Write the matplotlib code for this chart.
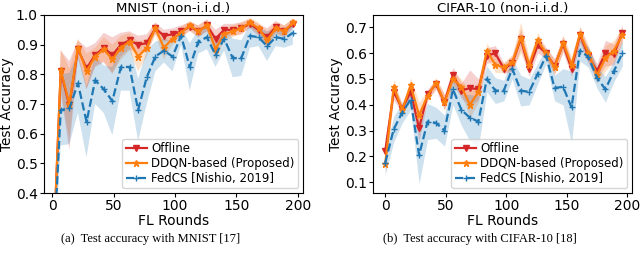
import matplotlib
matplotlib.use("Agg")
import matplotlib.pyplot as plt
import numpy as np

rounds = list(range(0, 197, 7))

mnist_offline = [0.10, 0.81, 0.695, 0.885, 0.82, 0.865, 0.89, 0.865, 0.90, 0.915, 0.90, 0.905, 0.955, 0.93, 0.935,
                 0.945, 0.96, 0.945, 0.965, 0.92, 0.95, 0.95, 0.955, 0.97, 0.95, 0.925, 0.96, 0.945, 0.97]
mnist_ddqn = [0.10, 0.815, 0.70, 0.89, 0.81, 0.86, 0.885, 0.85, 0.89, 0.91, 0.86, 0.89, 0.955, 0.89, 0.92,
              0.94, 0.965, 0.945, 0.965, 0.885, 0.935, 0.945, 0.955, 0.975, 0.955, 0.915, 0.955, 0.945, 0.975]
mnist_fedcs = [0.10, 0.68, 0.685, 0.77, 0.64, 0.78, 0.75, 0.71, 0.825, 0.825, 0.68, 0.79, 0.86, 0.88, 0.86,
               0.93, 0.825, 0.91, 0.925, 0.865, 0.92, 0.855, 0.855, 0.93, 0.925, 0.895, 0.925, 0.92, 0.94]
mnist_offline_sd = [0.05, 0.07, 0.15, 0.03, 0.07, 0.04, 0.05, 0.06, 0.04, 0.03, 0.03, 0.03, 0.02, 0.02, 0.02,
                    0.02, 0.015, 0.02, 0.02, 0.03, 0.02, 0.02, 0.02, 0.015, 0.02, 0.03, 0.02, 0.02, 0.015]
mnist_ddqn_sd = [0.05, 0.07, 0.12, 0.03, 0.06, 0.03, 0.04, 0.05, 0.04, 0.03, 0.05, 0.03, 0.02, 0.04, 0.02,
                 0.02, 0.015, 0.02, 0.02, 0.04, 0.02, 0.02, 0.02, 0.015, 0.02, 0.03, 0.02, 0.02, 0.015]
mnist_fedcs_sd = [0.05, 0.12, 0.12, 0.10, 0.12, 0.08, 0.08, 0.115, 0.08, 0.08, 0.105, 0.09, 0.05, 0.04, 0.05,
                  0.03, 0.08, 0.04, 0.04, 0.04, 0.04, 0.065, 0.06, 0.04, 0.03, 0.05, 0.03, 0.03, 0.04]

cifar_offline = [0.22, 0.45, 0.385, 0.45, 0.31, 0.44, 0.48, 0.41, 0.515, 0.455, 0.465, 0.46, 0.59, 0.60, 0.54,
                 0.56, 0.655, 0.54, 0.63, 0.60, 0.55, 0.635, 0.54, 0.67, 0.59, 0.53, 0.60, 0.595, 0.68]
cifar_ddqn = [0.17, 0.47, 0.38, 0.475, 0.36, 0.435, 0.485, 0.41, 0.50, 0.47, 0.40, 0.45, 0.61, 0.555, 0.545,
              0.565, 0.66, 0.555, 0.65, 0.60, 0.545, 0.64, 0.555, 0.675, 0.60, 0.515, 0.58, 0.61, 0.67]
cifar_fedcs = [0.175, 0.305, 0.37, 0.42, 0.205, 0.335, 0.33, 0.30, 0.46, 0.38, 0.35, 0.335, 0.50, 0.455, 0.455,
               0.54, 0.455, 0.45, 0.52, 0.59, 0.465, 0.47, 0.39, 0.61, 0.585, 0.505, 0.46, 0.53, 0.60]
cifar_offline_sd = [0.05, 0.03, 0.02, 0.03, 0.05, 0.02, 0.02, 0.03, 0.03, 0.03, 0.07, 0.04, 0.03, 0.03, 0.02,
                    0.03, 0.04, 0.03, 0.03, 0.02, 0.03, 0.03, 0.03, 0.03, 0.03, 0.03, 0.05, 0.04, 0.03]
cifar_ddqn_sd = [0.04, 0.03, 0.02, 0.03, 0.05, 0.02, 0.02, 0.03, 0.03, 0.03, 0.05, 0.04, 0.03, 0.03, 0.02,
                 0.03, 0.06, 0.03, 0.03, 0.02, 0.03, 0.03, 0.03, 0.03, 0.03, 0.03, 0.05, 0.04, 0.03]
cifar_fedcs_sd = [0.045, 0.05, 0.04, 0.04, 0.11, 0.07, 0.06, 0.06, 0.06, 0.06, 0.09, 0.10, 0.05, 0.05, 0.04,
                  0.04, 0.06, 0.05, 0.04, 0.03, 0.05, 0.07, 0.14, 0.04, 0.04, 0.04, 0.05, 0.04, 0.05]

labels = ["Offline", "DDQN-based (Proposed)", "FedCS [Nishio, 2019]"]
colors = ["#d62728", "#ff7f0e", "#1f77b4"]
markers = ["v", "*", "+"]
styles = ["-", "-", "--"]

fig = plt.figure(figsize=(6.4, 2.54), dpi=100)
ax1 = fig.add_axes([0.069, 0.240, 0.404, 0.701])
ax2 = fig.add_axes([0.583, 0.240, 0.4045, 0.701])

def draw(ax, series, sds, title, ylab_x):
    x = np.array(rounds)
    for y, sd, lab, c, m, ls in zip(series, sds, labels, colors, markers, styles):
        y = np.array(y); sd = np.array(sd)
        ax.fill_between(x, y - sd, y + sd, color=c, alpha=0.22, linewidth=0)
        ax.plot(x, y, color=c, marker=m, linestyle=ls, linewidth=1.6, markersize=5 if m != "*" else 4.5,
                label=lab)
    ax.set_title(title, fontsize=9.5, pad=2.5)
    ax.set_xlabel("FL Rounds", fontsize=10)
    ax.set_ylabel("Test Accuracy", fontsize=9.8)
    ax.xaxis.set_label_coords(0.5, -0.118)
    ax.yaxis.set_label_coords(ylab_x, 0.5)
    ax.tick_params(labelsize=10, length=3, pad=1.5)
    ax.set_xticks([0, 50, 100, 150, 200])
    ax.legend(loc="lower right", fontsize=8.5, handlelength=1.8, handletextpad=0.35,
              borderpad=0.3, labelspacing=0.15, borderaxespad=0.4)

draw(ax1, [mnist_offline, mnist_ddqn, mnist_fedcs], [mnist_offline_sd, mnist_ddqn_sd, mnist_fedcs_sd],
     "MNIST (non-i.i.d.)", -0.115)
ax1.set_ylim(0.4, 1.0)
ax1.set_xlim(-6.5, 204)
draw(ax2, [cifar_offline, cifar_ddqn, cifar_fedcs], [cifar_offline_sd, cifar_ddqn_sd, cifar_fedcs_sd],
     "CIFAR-10 (non-i.i.d.)", -0.115)
ax2.set_ylim(0.058, 0.748)
ax2.set_xlim(-10, 204)
ax2.set_yticks([0.1, 0.2, 0.3, 0.4, 0.5, 0.6, 0.7])

fig.text(0.236, 0.059, "(a)  Test accuracy with MNIST [17]", ha="center", va="center", fontsize=9,
         family="Liberation Serif")
fig.text(0.75, 0.059, "(b)  Test accuracy with CIFAR-10 [18]", ha="center", va="center", fontsize=9,
         family="Liberation Serif")

fig.savefig("out.png", dpi=100)
